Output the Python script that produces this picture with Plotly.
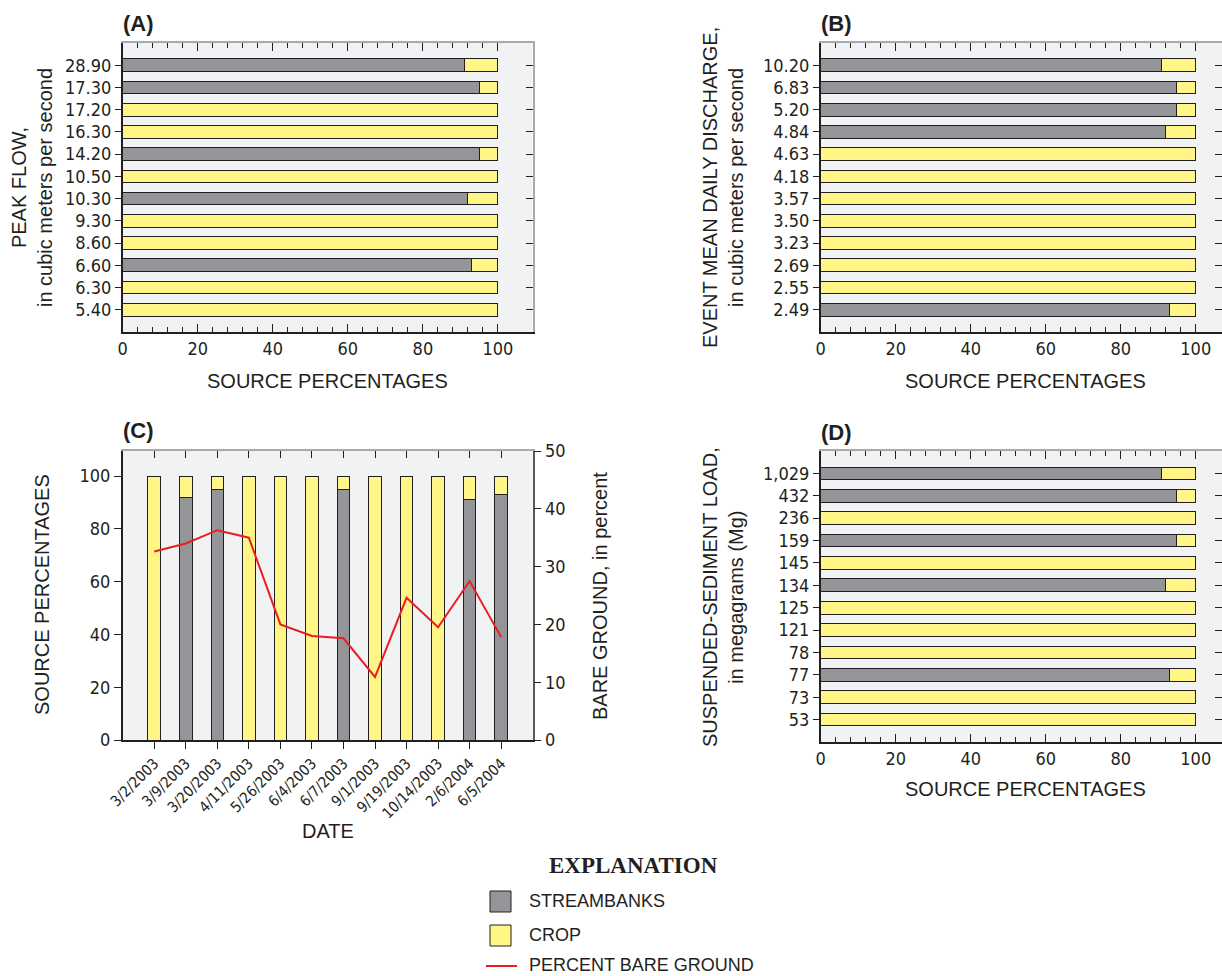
import plotly.graph_objects as go

# ---- data -------------------------------------------------------------
peak_flow = ["28.90", "17.30", "17.20", "16.30", "14.20", "10.50",
             "10.30", "9.30", "8.60", "6.60", "6.30", "5.40"]
peak_streambank = [91, 95, 0, 0, 95, 0, 92, 0, 0, 93, 0, 0]

mean_discharge = ["10.20", "6.83", "5.20", "4.84", "4.63", "4.18",
                  "3.57", "3.50", "3.23", "2.69", "2.55", "2.49"]
discharge_streambank = [91, 95, 95, 92, 0, 0, 0, 0, 0, 0, 0, 93]

dates = ["3/2/2003", "3/9/2003", "3/20/2003", "4/11/2003", "5/26/2003",
         "6/4/2003", "6/7/2003", "9/1/2003", "9/19/2003", "10/14/2003",
         "2/6/2004", "6/5/2004"]
date_streambank = [0, 92, 95, 0, 0, 0, 95, 0, 0, 0, 91, 93]
bare_ground = [32.6, 34.0, 36.3, 35.0, 20.0, 18.0, 17.6, 10.9, 24.6, 19.5,
               27.5, 17.8]

sediment_load = ["1,029", "432", "236", "159", "145", "134", "125", "121",
                 "78", "77", "73", "53"]
load_streambank = [91, 95, 0, 95, 0, 92, 0, 0, 0, 93, 0, 0]

pct_ticks = [0, 20, 40, 60, 80, 100]
pct_minor = list(range(0, 101, 4))
bare_ticks = [0, 10, 20, 30, 40, 50]

# ---- style ------------------------------------------------------------
W, H = 1222, 976
GREY = "#939598"
YELLOW = "#fff685"
RED = "#ed1c24"
DARK = "#231f20"
FRAME = "#a7a9ac"
PLOT_BG = "#f1f2f4"
SANS = "Liberation Sans, Arial, sans-serif"
NARROW = ("DejaVu Sans Condensed, Liberation Sans Narrow, Arial Narrow, "
          "Liberation Sans, sans-serif")
SERIF = "Liberation Serif, Times New Roman, serif"


def xdom(left, right):
    return [left / W, min(right / W, 1.0)]


def ydom(top, bottom):
    return [1 - bottom / H, 1 - top / H]


def px_x(x):
    return x / W


def px_y(y):
    return 1 - y / H


fig = go.Figure()

bar_line = dict(color=DARK, width=1)


def add_hbar_panel(labels, streambank, xa, ya):
    crop = [100 - s for s in streambank]
    fig.add_trace(go.Bar(y=labels, x=streambank, orientation="h",
                         marker=dict(color=GREY, line=bar_line), width=0.57,
                         xaxis=xa, yaxis=ya, showlegend=False,
                         name="STREAMBANKS"))
    fig.add_trace(go.Bar(y=labels, x=crop, orientation="h",
                         marker=dict(color=YELLOW, line=bar_line), width=0.57,
                         xaxis=xa, yaxis=ya, showlegend=False, name="CROP"))


add_hbar_panel(peak_flow, peak_streambank, "x", "y")
add_hbar_panel(mean_discharge, discharge_streambank, "x2", "y2")
add_hbar_panel(sediment_load, load_streambank, "x4", "y4")

# panel C: vertical stacked bars plus bare-ground line
date_crop = [100 - s for s in date_streambank]
fig.add_trace(go.Bar(x=dates, y=date_streambank,
                     marker=dict(color=GREY, line=bar_line), width=0.4,
                     xaxis="x3", yaxis="y3", showlegend=False,
                     name="STREAMBANKS"))
fig.add_trace(go.Bar(x=dates, y=date_crop,
                     marker=dict(color=YELLOW, line=bar_line), width=0.4,
                     xaxis="x3", yaxis="y3", showlegend=False, name="CROP"))
fig.add_trace(go.Scatter(x=dates, y=bare_ground, mode="lines",
                         line=dict(color=RED, width=2),
                         xaxis="x3", yaxis="y7", showlegend=False,
                         name="PERCENT BARE GROUND"))

# empty traces so the frame (top / right) axes get drawn
for xa, ya in [("x5", "y5"), ("x6", "y6"), ("x7", "y3"), ("x8", "y8")]:
    fig.add_trace(go.Scatter(x=[None], y=[None], xaxis=xa, yaxis=ya,
                             mode="markers", showlegend=False,
                             hoverinfo="skip"))

tick_font = dict(family=NARROW, size=18, color=DARK)

# geometry of the four panels (pixels)
panels = {
    "A": dict(x=(122.7, 532.5), y=(43, 332), xmax=109.2),
    "B": dict(x=(820.7, 1222), y=(43, 332), xmax=107.0),
    "C": dict(x=(122.7, 532.7), y=(451, 740)),
    "D": dict(x=(820.7, 1222), y=(451, 742), xmax=107.0),
}

common = dict(automargin=False, showgrid=False, zeroline=False)


def pct_axis(dom, anchor, xmax):
    return dict(domain=dom, anchor=anchor, range=[0, xmax],
                tickmode="array", tickvals=pct_ticks, ticks="inside",
                ticklen=8, tickcolor=DARK, tickwidth=1,
                minor=dict(tickmode="array", tickvals=pct_minor,
                           ticks="inside", ticklen=5, tickcolor=DARK),
                showline=True, linecolor=DARK, linewidth=1.5,
                tickfont=tick_font, **common)


def pct_top(over, anchor, xmax):
    return dict(overlaying=over, anchor=anchor, side="top", range=[0, xmax],
                tickmode="array", tickvals=pct_ticks, ticks="inside",
                ticklen=8, tickcolor=DARK, showticklabels=False,
                minor=dict(tickmode="array", tickvals=pct_minor,
                           ticks="inside", ticklen=5, tickcolor=DARK),
                showline=True, linecolor=FRAME, linewidth=1.5, **common)


def cat_axis(dom, anchor, labels):
    return dict(domain=dom, anchor=anchor, type="category",
                categoryorder="array", categoryarray=labels[::-1],
                tickmode="array", tickvals=labels, ticktext=labels,
                range=[-1, len(labels)], ticks="outside", ticklen=6,
                tickcolor=DARK, showline=True, linecolor=DARK, linewidth=1.5,
                tickfont=tick_font, **common)


def cat_right(over, anchor, n):
    return dict(overlaying=over, anchor=anchor, side="right",
                range=[-1, n], tickmode="array", tickvals=list(range(n)),
                ticks="inside", ticklen=7, tickcolor=DARK,
                showticklabels=False, showline=True, linecolor=FRAME,
                linewidth=1.5, **common)


A, B, C, D = panels["A"], panels["B"], panels["C"], panels["D"]
n = len(peak_flow)

layout = dict(
    width=W, height=H, margin=dict(l=0, r=0, t=0, b=0),
    paper_bgcolor="white", plot_bgcolor=PLOT_BG, barmode="stack",
    font=dict(family=SANS, color=DARK),
    xaxis=pct_axis(xdom(*A["x"]), "y", A["xmax"]),
    yaxis=cat_axis(ydom(*A["y"]), "x", peak_flow),
    xaxis5=pct_top("x", "y", A["xmax"]),
    yaxis5=cat_right("y", "x5", n),
    xaxis2=pct_axis(xdom(*B["x"]), "y2", B["xmax"]),
    yaxis2=cat_axis(ydom(*B["y"]), "x2", mean_discharge),
    xaxis6=pct_top("x2", "y2", B["xmax"]),
    yaxis6=cat_right("y2", "x6", n),
    xaxis4=pct_axis(xdom(*D["x"]), "y4", D["xmax"]),
    yaxis4=cat_axis(ydom(*D["y"]), "x4", sediment_load),
    xaxis8=pct_top("x4", "y4", D["xmax"]),
    yaxis8=cat_right("y4", "x8", n),
    xaxis3=dict(domain=xdom(*C["x"]), anchor="y3", type="category",
                categoryorder="array", categoryarray=dates,
                tickmode="array", tickvals=dates, ticktext=dates,
                range=[-1, len(dates)], ticks="outside", ticklen=7,
                tickcolor=DARK, tickangle=-45, showline=True,
                linecolor=DARK, linewidth=1.5,
                tickfont=dict(family=NARROW, size=15, color=DARK), **common),
    xaxis7=dict(overlaying="x3", anchor="y3", side="top",
                range=[-1, len(dates)], tickmode="array",
                tickvals=list(range(len(dates))), ticks="inside",
                ticklen=7, tickcolor=DARK, showticklabels=False,
                showline=True, linecolor=FRAME, linewidth=1.5, **common),
    yaxis3=dict(domain=ydom(*C["y"]), anchor="x3", range=[0, 109.5],
                tickmode="array", tickvals=pct_ticks, ticks="outside",
                ticklen=7, tickcolor=DARK, showline=True, linecolor=DARK,
                linewidth=1.5, tickfont=tick_font, **common),
    yaxis7=dict(overlaying="y3", anchor="x3", side="right", range=[0, 50],
                tickmode="array", tickvals=bare_ticks, ticks="outside",
                ticklen=7, tickcolor=DARK, showline=True, linecolor="#58595b",
                linewidth=1.5, tickfont=tick_font, **common),
)
fig.update_layout(**layout)

ann = []


def label(text, x, y, size=20, angle=0, bold=False, family=SANS,
          xanchor="center"):
    ann.append(dict(text=f"<b>{text}</b>" if bold else text,
                    x=px_x(x), y=px_y(y), xref="paper", yref="paper",
                    showarrow=False, textangle=angle, xanchor=xanchor,
                    yanchor="middle",
                    font=dict(family=family, size=size, color=DARK)))


# panel letters
label("(A)", 121, 23, size=22, bold=True, xanchor="left")
label("(B)", 819, 23, size=22, bold=True, xanchor="left")
label("(C)", 121, 431, size=22, bold=True, xanchor="left")
label("(D)", 819, 433, size=22, bold=True, xanchor="left")

# axis titles
label("PEAK FLOW,<br>in cubic meters per second", 32, 188, angle=-90)
label("EVENT MEAN DAILY DISCHARGE,<br>in cubic meters per second", 723, 188,
      angle=-90)
label("SUSPENDED-SEDIMENT LOAD,<br>in megagrams (Mg)", 723, 597, angle=-90)
label("SOURCE PERCENTAGES", 42, 595, angle=-90)
label("BARE GROUND, in percent", 600, 596, angle=-90)
label("SOURCE PERCENTAGES", 327, 381)
label("SOURCE PERCENTAGES", 1025, 381)
label("SOURCE PERCENTAGES", 1025, 789)
label("DATE", 328, 831)

# explanation block
label("EXPLANATION", 633, 865, size=23, bold=True, family=SERIF)
label("STREAMBANKS", 527, 901, size=18, xanchor="left")
label("CROP", 527, 935, size=18, xanchor="left")
label("PERCENT BARE GROUND", 527, 965, size=18, xanchor="left")

shapes = [
    dict(type="rect", xref="paper", yref="paper",
         x0=px_x(490), x1=px_x(511), y0=px_y(912), y1=px_y(891),
         fillcolor=GREY, line=dict(color=DARK, width=1)),
    dict(type="rect", xref="paper", yref="paper",
         x0=px_x(490), x1=px_x(511), y0=px_y(946), y1=px_y(925),
         fillcolor=YELLOW, line=dict(color=DARK, width=1)),
    dict(type="line", xref="paper", yref="paper",
         x0=px_x(486), x1=px_x(517), y0=px_y(966), y1=px_y(966),
         line=dict(color=RED, width=2)),
]

fig.update_layout(annotations=ann, shapes=shapes)
fig.write_html("out.html")
